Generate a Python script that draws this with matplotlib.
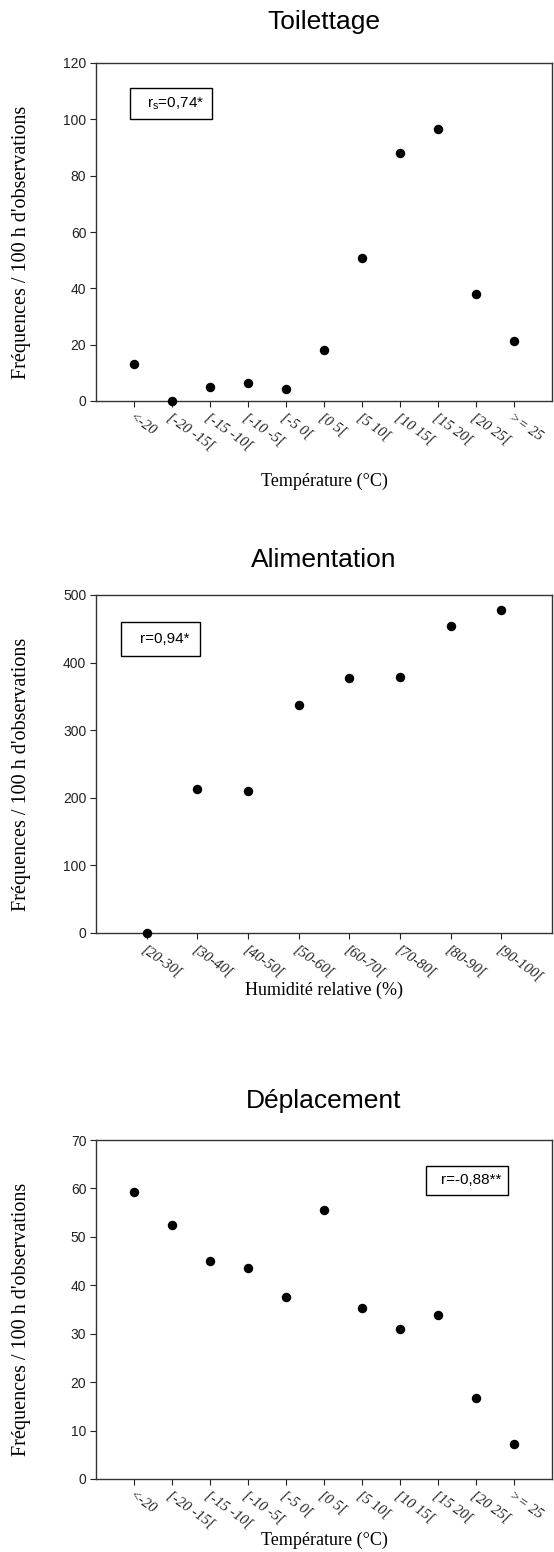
import numpy as np
import matplotlib
matplotlib.use("Agg")
import matplotlib.pyplot as plt
from matplotlib.patches import Rectangle

# ---------------- data ----------------
temp_labels = ["<-20", "[-20 -15[", "[-15 -10[", "[-10 -5[", "[-5 0[", "[0 5[",
               "[5 10[", "[10 15[", "[15 20[", "[20 25[", ">= 25"]
toilettage = [13.2, 0.0, 5.0, 6.3, 4.3, 18.0, 50.9, 88.0, 96.7, 38.1, 21.4]

hum_labels = ["[20-30[", "[30-40[", "[40-50[", "[50-60[", "[60-70[", "[70-80[",
              "[80-90[", "[90-100["]
alimentation = [0.0, 212.9, 210.4, 337.5, 377.2, 378.7, 453.7, 477.1]

deplacement = [59.2, 52.5, 45.0, 43.6, 37.5, 55.6, 35.4, 31.0, 33.8, 16.8, 7.3]

titles = ["Toilettage", "Alimentation", "Déplacement"]
xlabels = ["Température (°C)", "Humidité relative (%)", "Température (°C)"]
ylabel = "Fréquences / 100 h d'observations"
stats = ["$\\mathregular{r_s}$=0,74*", "r=0,94*", "r=-0,88**"]

# ---------------- style ----------------
plt.rcParams["font.family"] = ["Liberation Sans", "DejaVu Sans"]
plt.rcParams["mathtext.fontset"] = "custom"
plt.rcParams["mathtext.rm"] = "Liberation Sans"
SERIF = ["Liberation Serif", "DejaVu Serif"]
W, H = 554, 1552
fig = plt.figure(figsize=(W / 100, H / 100), dpi=100)

def fx(px):
    return px / W

def fy(py):
    return 1 - py / H

left_px, right_px = 96, 552
panels = [
    dict(top=63, bottom=401, labels=temp_labels, vals=toilettage, ymax=120, ystep=20,
         box=(130, 212, 88, 119), title_base=29, xlab_off=80),
    dict(top=595, bottom=933, labels=hum_labels, vals=alimentation, ymax=500, ystep=100,
         box=(121, 200, 622, 656), title_base=567, xlab_off=57),
    dict(top=1140, bottom=1479, labels=temp_labels, vals=deplacement, ymax=70, ystep=10,
         box=(426, 508, 1166, 1195), title_base=1108, xlab_off=61),
]

for i, p in enumerate(panels):
    ax = fig.add_axes([fx(left_px), fy(p["bottom"]), fx(right_px - left_px),
                       (p["bottom"] - p["top"]) / H])
    n = len(p["vals"])
    pos = np.arange(1, n + 1)
    ax.plot(pos, p["vals"], "o", color="black", markersize=5.8, clip_on=False, zorder=3)
    ax.set_xlim(0, n + 1)
    ax.set_ylim(0, p["ymax"])
    ax.set_yticks(np.arange(0, p["ymax"] + 0.1, p["ystep"]))
    ax.set_xticks(pos)
    ax.set_xticklabels(p["labels"], rotation=-35, ha="left", va="top",
                       rotation_mode="anchor", family=SERIF, style="italic",
                       fontsize=10.5)
    ax.tick_params(axis="x", direction="out", length=4, width=0.8, pad=3, colors="#222222")
    ax.tick_params(axis="y", direction="out", length=4, width=0.8, pad=3,
                   labelsize=10, colors="#222222")
    for sp in ax.spines.values():
        sp.set_linewidth(1.0)
        sp.set_color("#333333")
    ah = p["bottom"] - p["top"]
    aw = right_px - left_px
    # y label
    ax.text((22 - left_px) / aw, 0.47, ylabel, transform=ax.transAxes, rotation=90,
            ha="center", va="center", family=SERIF, fontsize=14.5)
    # x label
    ax.text(0.5, -p["xlab_off"] / ah, xlabels[i], transform=ax.transAxes,
            ha="center", va="center", family=SERIF, fontsize=13)
    # title
    fig.text(fx((left_px + right_px) / 2), fy(p["title_base"]), titles[i],
             ha="center", va="baseline", fontsize=19)
    # stat box
    x0, x1, y0, y1 = p["box"]
    bx0 = (x0 - left_px) / aw
    bx1 = (x1 - left_px) / aw
    by0 = (p["bottom"] - y1) / ah
    by1 = (p["bottom"] - y0) / ah
    ax.add_patch(Rectangle((bx0, by0), bx1 - bx0, by1 - by0, transform=ax.transAxes,
                           fill=False, edgecolor="black", linewidth=1.0))
    ax.text((bx0 + bx1) / 2 + 0.01, (by0 + by1) / 2, stats[i], transform=ax.transAxes,
            ha="center", va="center", fontsize=11)

fig.savefig("out.png", dpi=100)
